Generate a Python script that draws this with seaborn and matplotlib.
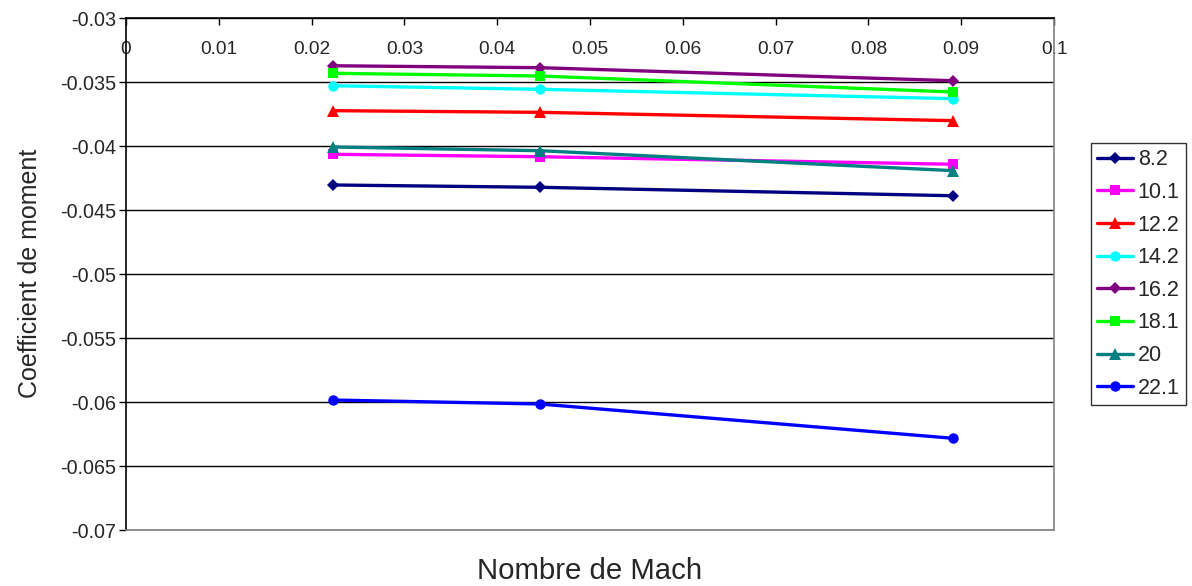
import matplotlib
matplotlib.use("Agg")
import matplotlib.pyplot as plt
import seaborn as sns
import pandas as pd

# Mach numbers of the three test speeds
mach = [0.0223, 0.0446, 0.0891]

# Moment coefficient for each angle of attack (deg)
angles = ["8.2", "10.1", "12.2", "14.2", "16.2", "18.1", "20", "22.1"]
cm_8_2 = [-0.04303, -0.04321, -0.04387]
cm_10_1 = [-0.04063, -0.04082, -0.04141]
cm_12_2 = [-0.03722, -0.03735, -0.03800]
cm_14_2 = [-0.03527, -0.03555, -0.03628]
cm_16_2 = [-0.03371, -0.03386, -0.03488]
cm_18_1 = [-0.03430, -0.03451, -0.03576]
cm_20 = [-0.04006, -0.04035, -0.04191]
cm_22_1 = [-0.05984, -0.06015, -0.06283]

x_ticks = [0, 0.01, 0.02, 0.03, 0.04, 0.05, 0.06, 0.07, 0.08, 0.09, 0.1]
x_tick_labels = ["0", "0.01", "0.02", "0.03", "0.04", "0.05", "0.06", "0.07", "0.08", "0.09", "0.1"]
y_ticks = [-0.07, -0.065, -0.06, -0.055, -0.05, -0.045, -0.04, -0.035, -0.03]
y_tick_labels = ["-0.07", "-0.065", "-0.06", "-0.055", "-0.05", "-0.045", "-0.04", "-0.035", "-0.03"]

series = [cm_8_2, cm_10_1, cm_12_2, cm_14_2, cm_16_2, cm_18_1, cm_20, cm_22_1]
rows = []
for a, vals in zip(angles, series):
    for m, v in zip(mach, vals):
        rows.append({"Mach": m, "Cm": v, "angle": a})
df = pd.DataFrame(rows)

palette = {"8.2": "#000080", "10.1": "#FF00FF", "12.2": "#FF0000", "14.2": "#00FFFF",
           "16.2": "#800080", "18.1": "#00FF00", "20": "#008080", "22.1": "#0000FF"}
markers = {"8.2": "D", "10.1": "s", "12.2": "^", "14.2": "o",
           "16.2": "D", "18.1": "s", "20": "^", "22.1": "o"}
msize = {"D": 6, "s": 7.5, "^": 8, "o": 7.5}
LW = 2.4

sns.set_style("white")
plt.rcParams["font.family"] = ["Liberation Sans", "DejaVu Sans"]

fig = plt.figure(figsize=(11.92, 5.86), dpi=100)
ax = fig.add_axes([126 / 1192, 1 - 530 / 586, (1054 - 126) / 1192, (530 - 18.3) / 586])

sns.lineplot(data=df, x="Mach", y="Cm", hue="angle", style="angle", hue_order=angles,
             style_order=angles, palette=palette, markers=markers, dashes=False,
             linewidth=LW, markersize=7, markeredgewidth=0, ax=ax, legend=False, sort=False)

# per-marker sizing
for line, a in zip(ax.get_lines(), angles):
    line.set_markersize(msize[markers[a]])

ax.set_xlim(0, 0.1)
ax.set_ylim(-0.07, -0.03)
ax.set_yticks(y_ticks)
ax.set_yticklabels(y_tick_labels, fontsize=14.2)
ax.set_xticks(x_ticks)
ax.set_xticklabels(x_tick_labels, fontsize=13.8)

# x axis sits on the top edge, labels below it inside the plot area
ax.xaxis.tick_top()
ax.tick_params(axis="x", direction="in", length=5, width=1, color="black", pad=-16,
               labeltop=True, labelbottom=False)
ax.tick_params(axis="y", direction="out", length=5, width=1, color="black", pad=2, left=True)
for lbl in ax.get_xticklabels():
    lbl.set_verticalalignment("top")

ax.grid(axis="y", color="#000000", linewidth=1)
ax.grid(axis="x", visible=False)
ax.set_axisbelow(True)

ax.spines["left"].set_color("black")
ax.spines["top"].set_color("black")
ax.spines["right"].set_color("#808080")
ax.spines["bottom"].set_color("#808080")
for s in ax.spines.values():
    s.set_linewidth(1.2)

ax.set_xlabel("")
ax.set_ylabel("")
fig.text(30 / 1192, 1 - 273 / 586, "Coefficient de moment", rotation=90, fontsize=18,
         ha="center", va="center")
fig.text(590 / 1192, 1 - 571 / 586, "Nombre de Mach", fontsize=21.2, ha="center", va="center")

handles = []
for a in angles:
    h, = ax.plot([], [], color=palette[a], marker=markers[a], markersize=msize[markers[a]],
                 markeredgewidth=0, linewidth=LW)
    handles.append(h)
leg = fig.legend(handles, angles, loc="upper left",
                 bbox_to_anchor=(1090.7 / 1192, 1 - 143.3 / 586), fontsize=15.5,
                 frameon=True, fancybox=False, shadow=False, handlelength=1.7,
                 handletextpad=0.2, labelspacing=0.54, borderpad=0.28, borderaxespad=0)
leg.get_frame().set_edgecolor("black")
leg.get_frame().set_linewidth(1)

fig.savefig("out.png", dpi=100)
